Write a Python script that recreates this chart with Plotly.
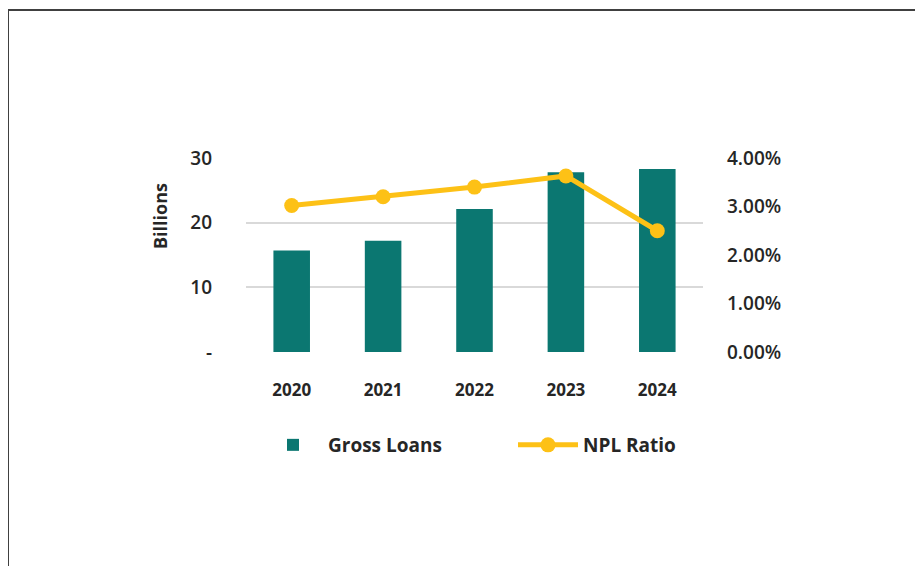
import plotly.graph_objects as go

years = ["2020", "2021", "2022", "2023", "2024"]
gross_loans = [15.7, 17.2, 22.1, 27.8, 28.3]          # billions
npl_ratio = [0.0302, 0.0320, 0.0340, 0.0363, 0.0250]  # fraction

left_tickvals = [0, 10, 20, 30]
left_ticktext = ["-", "10", "20", "30"]
right_tickvals = [0, 0.01, 0.02, 0.03, 0.04]

TEAL = "#0B7771"
GOLD = "#FDC116"
TXT = "#262626"
FONT = "Open Sans"

W, H = 907, 558
L, R, T, B = 238, 212, 150, 214
pw, ph = W - L - R, H - T - B

def px(x):
    return (x - L) / pw

def py(y):
    return (H - B - y) / ph

fig = go.Figure()
fig.add_trace(go.Bar(
    x=years, y=gross_loans, name="Gross Loans",
    marker=dict(color=TEAL, line=dict(width=0)),
    yaxis="y", legend="legend",
))
fig.add_trace(go.Scatter(
    x=years, y=npl_ratio, name="NPL Ratio", mode="lines+markers",
    line=dict(color=GOLD, width=5),
    marker=dict(color=GOLD, size=15),
    yaxis="y2", legend="legend2",
))

legend_font = dict(family=FONT, size=19, color=TXT, weight="bold")

fig.update_layout(
    width=W, height=H,
    margin=dict(l=L, r=R, t=T, b=B),
    paper_bgcolor="white", plot_bgcolor="white",
    bargap=0.6,
    font=dict(family=FONT, color=TXT, size=17),
    showlegend=True,
    legend=dict(
        orientation="h", x=px(250), xanchor="left", y=py(437), yanchor="middle",
        font=legend_font, itemwidth=60,
    ),
    legend2=dict(
        orientation="h", x=px(505), xanchor="left", y=py(437), yanchor="middle",
        font=legend_font, itemwidth=60,
    ),
    xaxis=dict(
        showgrid=False, showline=False, zeroline=False,
        tickfont=dict(family=FONT, size=17, color=TXT, weight="bold"),
        ticks="", ticklabelstandoff=26,
    ),
    yaxis=dict(
        range=[0, 30], tickvals=left_tickvals, ticktext=left_ticktext,
        showgrid=True, gridcolor="#D9D9D9", gridwidth=1.5,
        zeroline=False, showline=False, ticks="",
        tickfont=dict(family=FONT, size=19, color=TXT, weight=600),
        ticklabelstandoff=33,
    ),
    yaxis2=dict(
        range=[0, 0.04], tickvals=right_tickvals, tickformat=".2%",
        overlaying="y", side="right",
        showgrid=False, zeroline=False, showline=False, ticks="",
        tickfont=dict(family=FONT, size=19, color=TXT, weight=600),
        ticklabelstandoff=23,
    ),
    annotations=[
        dict(text="Billions", textangle=-90, showarrow=False,
             xref="paper", yref="paper", x=px(152), y=py(208),
             xanchor="center", yanchor="middle",
             font=dict(family=FONT, size=18, color=TXT, weight="bold")),
    ],
    shapes=[
        dict(type="line", xref="paper", yref="paper",
             x0=px(0), x1=px(W + 5), y0=py(2), y1=py(2),
             line=dict(color="#404040", width=2)),
        dict(type="line", xref="paper", yref="paper",
             x0=px(0.5), x1=px(0.5), y0=py(2), y1=py(H + 5),
             line=dict(color="#404040", width=1)),
    ],
)

fig.write_html("out.html")
